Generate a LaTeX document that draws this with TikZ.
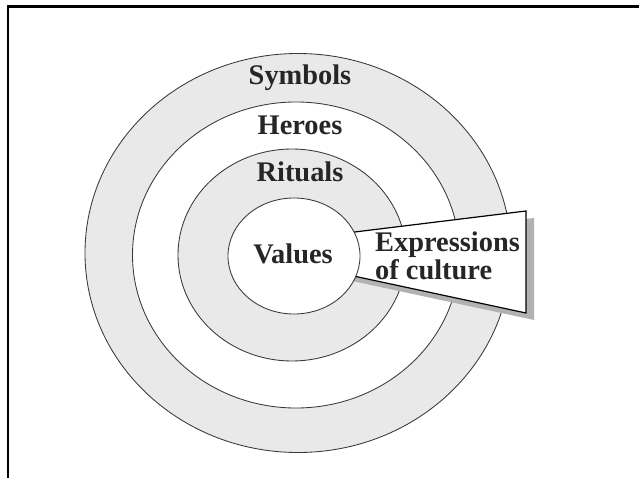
\documentclass[tikz,border=0pt]{standalone}
\usepackage{fontspec}
\setmainfont{Liberation Serif}
\usetikzlibrary{shapes.geometric}
\definecolor{ringgray}{gray}{0.915}
\definecolor{shadowgray}{gray}{0.70}
\begin{document}
\begin{tikzpicture}[x=1bp,y=-1bp,
  ring/.style={ellipse, draw=black!78, line width=0.85bp, inner sep=0pt},
  lbl/.style={font=\fontsize{28.5}{23}\selectfont\bfseries, text=black!85, inner sep=0pt},
  frameline/.style={line width=2.2bp, draw=black}]
\useasboundingbox (0,0) rectangle (639,478);
% frame
\coordinate (fb) at (7.7,478);
\coordinate (fc) at (7.7,6.5);
\coordinate (fr) at (639,6.5);
\draw[frameline] (fb) -- (fc) -- (fr);
% rings
\node[ring, fill=ringgray, minimum width=426bp, minimum height=399bp] (symbols) at (298,253) {};
\node[ring, fill=white, minimum width=327bp, minimum height=306bp] (heroes) at (296,255) {};
\node[ring, fill=ringgray, minimum width=228bp, minimum height=212bp] (rituals) at (292,255) {};
% wedge
\coordinate (wA) at (340,233.8);
\coordinate (wB) at (526,211);
\coordinate (wC) at (526,313);
\coordinate (wD) at (340,273.1);
\fill[shadowgray] ([shift={(8,7)}]wA) -- ([shift={(8,7)}]wB) -- ([shift={(8,7)}]wC) -- ([shift={(8,7)}]wD) -- cycle;
\draw[fill=white, line width=1.2bp, line join=miter] (wA) -- (wB) -- (wC) -- (wD) -- cycle;
% values
\node[ring, fill=white, minimum width=132bp, minimum height=116bp] (values) at (294,256) {};
% labels
\node[lbl, anchor=base] (tsym) at (300,85) {Symbols};
\node[lbl, anchor=base] (thero) at (300,135) {Heroes};
\node[lbl, anchor=base] (trit) at (300,181.5) {Rituals};
\node[lbl, anchor=base] (tval) at (293,263) {Values};
\node[lbl, anchor=base west, align=left] (texpr) at (375,279) {Expressions\\of culture};
\end{tikzpicture}
\end{document}
